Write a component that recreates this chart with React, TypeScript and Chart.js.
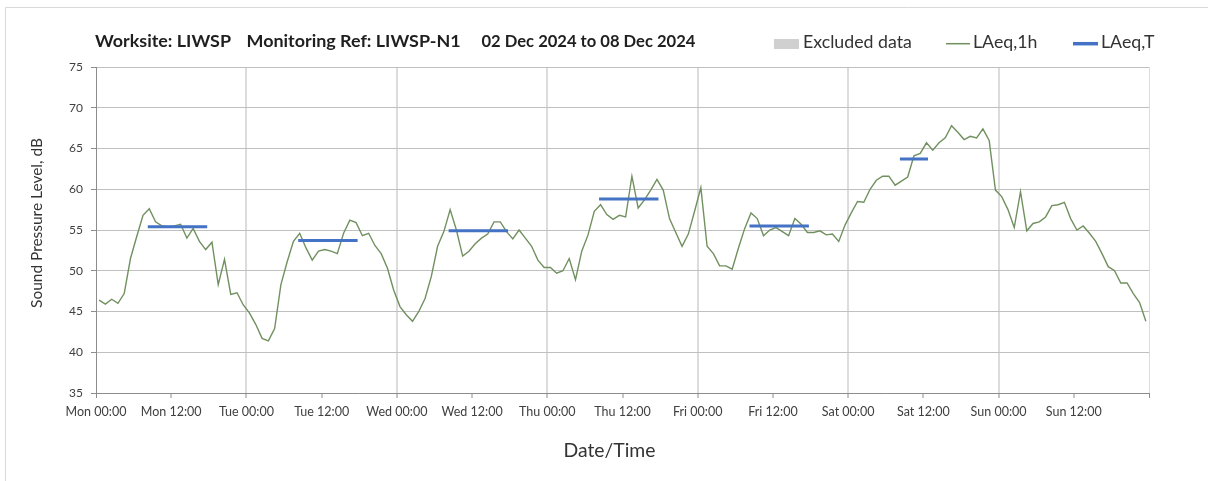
import React, { useEffect, useRef } from 'react';
import { Chart, registerables } from 'chart.js';

Chart.register(...registerables);

// ---- Data ----
const dayNames = ['Mon', 'Tue', 'Wed', 'Thu', 'Fri', 'Sat', 'Sun'];

// Hourly LAeq,1h values, Mon 00:00 .. Sun 23:00 (168 hours)
const laeq1h = [
  46.4, 45.9, 46.5, 46.0, 47.2, 51.5, 54.2, 56.8, 57.6, 56.0,
  55.5, 55.4, 55.5, 55.7, 54.0, 55.2, 53.6, 52.6, 53.5, 48.3,
  51.4, 47.1, 47.3, 45.8, 44.8, 43.4, 41.7, 41.4, 42.9, 48.3,
  51.1, 53.6, 54.6, 52.8, 51.3, 52.4, 52.6, 52.4, 52.1, 54.6,
  56.2, 55.9, 54.3, 54.6, 53.1, 52.1, 50.3, 47.6, 45.6, 44.6,
  43.8, 45.0, 46.6, 49.3, 53.0, 54.8, 57.5, 55.0, 51.8, 52.4,
  53.3, 54.0, 54.5, 56.0, 56.0, 54.8, 53.9, 55.0, 54.0, 53.0,
  51.3, 50.4, 50.4, 49.7, 50.0, 51.5, 48.9, 52.4, 54.4, 57.3,
  58.1, 56.9, 56.3, 56.8, 56.6, 61.6, 57.7, 58.7, 59.9, 61.2,
  59.9, 56.4, 54.7, 53.0, 54.5, 57.3, 60.2, 53.0, 52.1, 50.6,
  50.6, 50.2, 52.8, 55.2, 57.1, 56.4, 54.3, 55.0, 55.3, 54.8,
  54.3, 56.4, 55.7, 54.7, 54.7, 54.9, 54.4, 54.5, 53.6, 55.6,
  57.1, 58.5, 58.4, 60.0, 61.1, 61.6, 61.6, 60.5, 61.0, 61.5,
  64.1, 64.4, 65.7, 64.8, 65.7, 66.3, 67.8, 67.0, 66.1, 66.5,
  66.3, 67.4, 66.0, 59.9, 59.1, 57.5, 55.3, 59.7, 54.9, 55.8,
  56.0, 56.6, 58.0, 58.1, 58.4, 56.4, 55.0, 55.5, 54.6, 53.6,
  52.1, 50.5, 50.0, 48.5, 48.5, 47.2, 46.1, 43.8,
];

// LAeq,T periods (hour index of first and last hour, value)
const laeqTStart = [8, 32, 56, 80, 104, 128];
const laeqTEnd = [17, 41, 65, 89, 113, 132];
const laeqTValues = [55.4, 53.7, 54.9, 58.8, 55.5, 63.7];

const yMin = 35;
const yMax = 75;
const yStep = 5;
const xStepHours = 12;

const titleParts = ['Worksite: LIWSP', 'Monitoring Ref: LIWSP-N1', '02 Dec 2024 to 08 Dec 2024'];
const legendLabels = ['Excluded data', 'LAeq,1h', 'LAeq,T'];
const yTitle = 'Sound Pressure Level, dB';
const xTitle = 'Date/Time';

// ---- Styling ----
const FONT = 'Lato, "Open Sans", sans-serif';
const GREEN = '#71905f';
const BLUE = '#4472c4';
const EXCL = '#d0d0d0';

function fitSize(ctx: CanvasRenderingContext2D, text: string, weight: string, target: number) {
  ctx.font = `${weight} 100px ${FONT}`;
  return (100 * target) / ctx.measureText(text).width;
}

const overlayPlugin = {
  id: 'overlay',
  beforeDraw(chart: any) {
    const ctx: CanvasRenderingContext2D = chart.ctx;
    ctx.save();
    ctx.fillStyle = '#ffffff';
    ctx.fillRect(0, 0, chart.width, chart.height);
    ctx.strokeStyle = '#d9d9d9';
    ctx.lineWidth = 1;
    ctx.beginPath();
    ctx.moveTo(5.5, chart.height);
    ctx.lineTo(5.5, 7.5);
    ctx.lineTo(chart.width, 7.5);
    ctx.stroke();
    ctx.restore();
  },
  afterDraw(chart: any) {
    const ctx: CanvasRenderingContext2D = chart.ctx;
    ctx.save();
    // Title
    const ts = (fitSize(ctx, titleParts[0], 'bold', 136) + fitSize(ctx, titleParts[1], 'bold', 214.5)) / 2;
    const ts3 = Math.min(ts, fitSize(ctx, titleParts[2], 'bold', 214));
    ctx.fillStyle = '#1f1f1f';
    ctx.textAlign = 'left';
    ctx.textBaseline = 'alphabetic';
    const tx = [95, 246.5, 481.5];
    titleParts.forEach((t, i) => {
      ctx.font = `bold ${i === 2 ? ts3 : ts}px ${FONT}`;
      ctx.fillText(t, tx[i], 46.5);
    });

    // Legend
    const ls = (fitSize(ctx, legendLabels[0], 'normal', 108) + fitSize(ctx, legendLabels[1], 'normal', 65)) / 2;
    ctx.font = `normal ${ls}px ${FONT}`;
    ctx.fillStyle = EXCL;
    ctx.fillRect(774, 39, 25, 10);
    ctx.strokeStyle = GREEN;
    ctx.lineWidth = 1.5;
    ctx.beginPath();
    ctx.moveTo(946, 43.7);
    ctx.lineTo(970, 43.7);
    ctx.stroke();
    ctx.strokeStyle = BLUE;
    ctx.lineWidth = 3.5;
    ctx.beginPath();
    ctx.moveTo(1073, 43.7);
    ctx.lineTo(1098, 43.7);
    ctx.stroke();
    ctx.fillStyle = '#333333';
    const lx = [803, 973, 1101];
    legendLabels.forEach((t, i) => ctx.fillText(t, lx[i], 48.3));

    // Axis titles
    const ys = fitSize(ctx, yTitle, 'normal', 170);
    ctx.font = `normal ${ys}px ${FONT}`;
    ctx.textAlign = 'center';
    ctx.save();
    ctx.translate(41.5, 223);
    ctx.rotate(-Math.PI / 2);
    ctx.fillText(yTitle, 0, 0);
    ctx.restore();
    const xs = fitSize(ctx, xTitle, 'normal', 92);
    ctx.font = `normal ${xs}px ${FONT}`;
    ctx.fillText(xTitle, 609.5, 456.5);
    ctx.restore();
  },
};

function buildLaeqT() {
  const pts: { x: number; y: number | null }[] = [];
  laeqTValues.forEach((v, i) => {
    pts.push({ x: laeqTStart[i] + 0.5, y: v });
    pts.push({ x: laeqTEnd[i] + 0.5, y: v });
    pts.push({ x: laeqTEnd[i] + 1, y: null });
  });
  return pts;
}

export default function App() {
  const ref = useRef<HTMLCanvasElement>(null);

  useEffect(() => {
    const canvas = ref.current!;
    const chart = new Chart(canvas, {
      type: 'line',
      data: {
        datasets: [
          {
            label: 'LAeq,T',
            data: buildLaeqT() as any,
            borderColor: BLUE,
            backgroundColor: BLUE,
            borderWidth: 3,
            borderCapStyle: 'square',
            pointRadius: 0,
            spanGaps: false,
            order: 0,
          },
          {
            label: 'LAeq,1h',
            data: laeq1h.map((v, i) => ({ x: i + 0.5, y: v })),
            borderColor: GREEN,
            backgroundColor: GREEN,
            borderWidth: 1.4,
            pointRadius: 0,
            tension: 0,
            order: 1,
          },
          {
            label: 'Excluded data',
            data: [],
            borderColor: EXCL,
            backgroundColor: EXCL,
            order: 2,
          },
        ],
      },
      options: {
        responsive: false,
        animation: false,
        devicePixelRatio: 1,
        layout: { padding: { top: 67, right: 59, left: 0, bottom: 0 } },
        plugins: {
          legend: { display: false },
          title: { display: false },
          tooltip: { enabled: false },
        },
        scales: {
          x: {
            type: 'linear',
            min: 0,
            max: 168,
            afterFit: (scale: any) => {
              scale.height = 88;
            },
            ticks: {
              stepSize: xStepHours,
              maxTicksLimit: 30,
              autoSkip: false,
              maxRotation: 0,
              minRotation: 0,
              padding: 6,
              color: '#404040',
              font: { family: FONT, size: 12.5 },
              callback: (value: any) => {
                const v = Number(value);
                if (v >= 168) return '';
                const day = dayNames[Math.floor(v / 24)];
                return `${day} ${v % 24 === 0 ? '00:00' : '12:00'}`;
              },
            },
            grid: {
              color: (c: any) => (c.tick && c.tick.value % 24 === 0 ? '#dcdcdc' : 'rgba(0,0,0,0)'),
              lineWidth: (c: any) => (c.tick && (c.tick.value === 0 || c.tick.value === 168) ? 1 : 2),
              tickColor: '#8c8c8c',
              tickWidth: 1,
              tickLength: 5,
              drawTicks: true,
            },
            border: { color: '#8c8c8c', width: 1 },
          },
          y: {
            min: yMin,
            max: yMax,
            afterFit: (scale: any) => {
              scale.width = 96;
            },
            ticks: {
              stepSize: yStep,
              padding: 8,
              color: '#404040',
              font: { family: FONT, size: 12 },
            },
            grid: {
              color: '#c0c0c0',
              lineWidth: 1,
              tickColor: '#8c8c8c',
              tickWidth: 1,
              tickLength: 5,
            },
            border: { color: '#8c8c8c', width: 1 },
          },
        },
      } as any,
      plugins: [overlayPlugin],
    });
    return () => chart.destroy();
  }, []);

  return (
    <div style={{ position: 'fixed', left: 0, top: 0, width: 1208, height: 481, background: '#fff' }}>
      <canvas ref={ref} width={1208} height={481} style={{ display: 'block', width: 1208, height: 481 }} />
    </div>
  );
}
